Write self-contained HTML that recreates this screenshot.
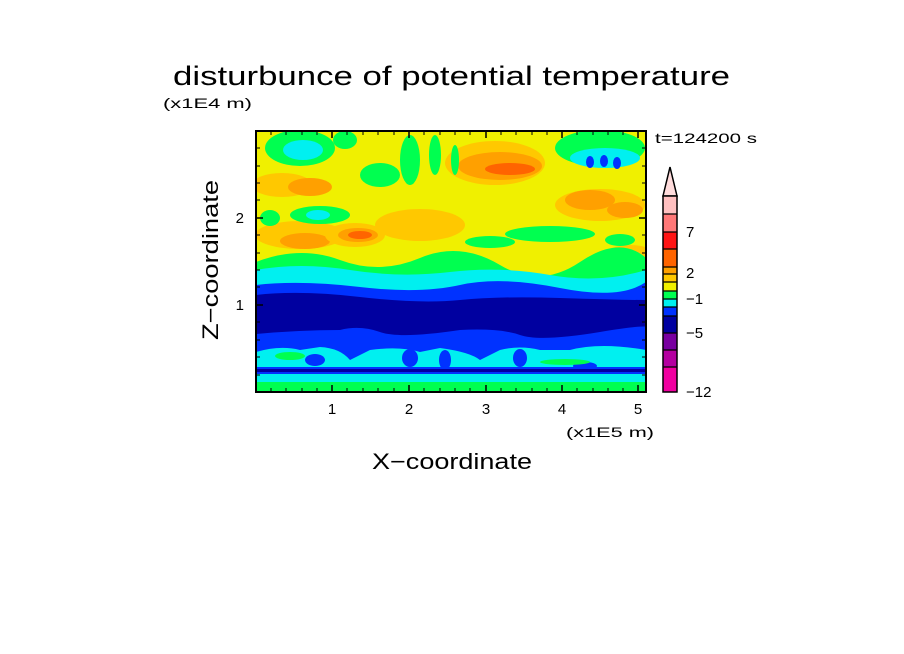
<!DOCTYPE html>
<html><head><style>body{margin:0;background:#fff}svg{display:block}</style></head><body>
<svg width="904" height="654" xmlns="http://www.w3.org/2000/svg" font-family="Liberation Sans, DejaVu Sans, sans-serif">
<text x="173" y="85" font-size="27" textLength="557" lengthAdjust="spacingAndGlyphs">disturbunce of potential temperature</text>
<text x="163" y="108" font-size="14" textLength="89" lengthAdjust="spacingAndGlyphs">(x1E4 m)</text>
<defs><clipPath id="c"><rect x="256" y="131" width="390" height="261"/></clipPath></defs>
<g clip-path="url(#c)">
<rect x="256" y="131" width="390" height="261" fill="#f0f000"/>
<ellipse cx="282" cy="185" rx="30" ry="12" fill="#ffc800"/>
<ellipse cx="310" cy="187" rx="22" ry="9" fill="#ffa000"/>
<ellipse cx="300" cy="235" rx="45" ry="14" fill="#ffc800"/>
<ellipse cx="305" cy="241" rx="25" ry="8" fill="#ffa000"/>
<ellipse cx="355" cy="235" rx="30" ry="12" fill="#ffc800"/>
<ellipse cx="358" cy="235" rx="20" ry="7" fill="#ffa000"/>
<ellipse cx="360" cy="235" rx="12" ry="4" fill="#ff6400"/>
<ellipse cx="420" cy="225" rx="45" ry="16" fill="#ffc800"/>
<ellipse cx="495" cy="163" rx="50" ry="22" fill="#ffc800"/>
<ellipse cx="500" cy="166" rx="42" ry="14" fill="#ffa000"/>
<ellipse cx="510" cy="169" rx="25" ry="6" fill="#ff6400"/>
<ellipse cx="600" cy="205" rx="45" ry="16" fill="#ffc800"/>
<ellipse cx="590" cy="200" rx="25" ry="10" fill="#ffa000"/>
<ellipse cx="625" cy="210" rx="18" ry="8" fill="#ffa000"/>
<ellipse cx="630" cy="255" rx="25" ry="10" fill="#ffc800"/>
<ellipse cx="300" cy="148" rx="35" ry="18" fill="#00ff50"/>
<ellipse cx="303" cy="150" rx="20" ry="10" fill="#00f0f0"/>
<ellipse cx="380" cy="175" rx="20" ry="12" fill="#00ff50"/>
<ellipse cx="320" cy="215" rx="30" ry="9" fill="#00ff50"/>
<ellipse cx="318" cy="215" rx="12" ry="5" fill="#00f0f0"/>
<ellipse cx="270" cy="218" rx="10" ry="8" fill="#00ff50"/>
<ellipse cx="410" cy="160" rx="10" ry="25" fill="#00ff50"/>
<ellipse cx="435" cy="155" rx="6" ry="20" fill="#00ff50"/>
<ellipse cx="455" cy="160" rx="4" ry="15" fill="#00ff50"/>
<ellipse cx="345" cy="140" rx="12" ry="9" fill="#00ff50"/>
<ellipse cx="550" cy="234" rx="45" ry="8" fill="#00ff50"/>
<ellipse cx="490" cy="242" rx="25" ry="6" fill="#00ff50"/>
<ellipse cx="600" cy="148" rx="45" ry="18" fill="#00ff50"/>
<ellipse cx="605" cy="158" rx="35" ry="10" fill="#00f0f0"/>
<ellipse cx="590" cy="162" rx="4" ry="6" fill="#0032ff"/>
<ellipse cx="604" cy="161" rx="4" ry="6" fill="#0032ff"/>
<ellipse cx="617" cy="163" rx="4" ry="6" fill="#0032ff"/>
<ellipse cx="620" cy="240" rx="15" ry="6" fill="#00ff50"/>
<path d="M256 262 Q300 245 340 260 T420 258 T500 265 T580 262 T646 258 L646 392 L256 392Z" fill="#00ff50"/>
<path d="M256 270 Q300 262 350 270 T450 272 T550 275 T646 270 L646 392 L256 392Z" fill="#00f0f0"/>
<path d="M256 285 Q300 280 360 287 T460 285 T560 288 T646 282 L646 392 L256 392Z" fill="#0032ff"/>
<path d="M256 295 Q300 290 360 297 T460 300 T560 298 T646 300 L646 392 L256 392Z" fill="#0000a0"/>
<path d="M256 334 Q300 330 340 330 Q360 325 380 332 T460 330 Q500 328 520 335 T600 332 T646 330 L646 392 L256 392Z" fill="#0032ff"/>
<path d="M256 352 Q280 345 300 350 L320 347 Q340 348 350 360 L370 350 Q400 346 420 352 L440 348 Q470 352 480 360 L500 350 Q520 345 540 350 L570 350 Q600 342 646 350 L646 392 L256 392Z" fill="#00f0f0"/>
<ellipse cx="315" cy="360" rx="10" ry="6" fill="#0032ff"/>
<ellipse cx="410" cy="358" rx="8" ry="9" fill="#0032ff"/>
<ellipse cx="445" cy="360" rx="6" ry="10" fill="#0032ff"/>
<ellipse cx="520" cy="358" rx="7" ry="9" fill="#0032ff"/>
<ellipse cx="585" cy="366" rx="12" ry="4" fill="#0032ff"/>
<ellipse cx="290" cy="356" rx="15" ry="4" fill="#00ff50"/>
<ellipse cx="565" cy="362" rx="25" ry="3" fill="#00ff50"/>
<rect x="256" y="367" width="390" height="7" fill="#0032ff"/>
<rect x="256" y="369" width="390" height="3" fill="#0000a0"/>
<rect x="256" y="374" width="390" height="8" fill="#00f0f0"/>
<rect x="256" y="382" width="390" height="10" fill="#00ff50"/>
</g>
<rect x="256" y="131" width="390" height="261" fill="none" stroke="#000" stroke-width="2"/>
<g stroke="#000" stroke-width="1.5">
<path d="M332 392v-7M409 392v-7M486 392v-7M562 392v-7M638 392v-7M332 131v7M409 131v7M486 131v7M562 131v7M638 131v7"/>
<path d="M256 305h7M256 218h7M646 305h-7M646 218h-7"/>
</g>
<g stroke="#000" stroke-width="1">
<path d="M271 392v-4M286 392v-4M302 392v-4M317 392v-4M347 392v-4M363 392v-4M378 392v-4M394 392v-4M424 392v-4M440 392v-4M455 392v-4M470 392v-4M501 392v-4M516 392v-4M532 392v-4M547 392v-4M577 392v-4M593 392v-4M608 392v-4M623 392v-4"/>
<path d="M271 131v4M286 131v4M302 131v4M317 131v4M347 131v4M363 131v4M378 131v4M394 131v4M424 131v4M440 131v4M455 131v4M470 131v4M501 131v4M516 131v4M532 131v4M547 131v4M577 131v4M593 131v4M608 131v4M623 131v4"/>
<path d="M256 375h4M256 357h4M256 340h4M256 322h4M256 287h4M256 270h4M256 253h4M256 235h4M256 200h4M256 183h4M256 166h4M256 148h4"/>
<path d="M646 375h-4M646 357h-4M646 340h-4M646 322h-4M646 287h-4M646 270h-4M646 253h-4M646 235h-4M646 200h-4M646 183h-4M646 166h-4M646 148h-4"/>
</g>
<g font-size="15" text-anchor="middle">
<text x="332" y="414">1</text><text x="409" y="414">2</text><text x="486" y="414">3</text><text x="562" y="414">4</text><text x="638" y="414">5</text>
</g>
<text x="244" y="310" font-size="15" text-anchor="end">1</text>
<text x="244" y="223" font-size="15" text-anchor="end">2</text>
<text x="566" y="437" font-size="14" textLength="88" lengthAdjust="spacingAndGlyphs">(x1E5 m)</text>
<text x="372" y="469" font-size="22" textLength="160" lengthAdjust="spacingAndGlyphs">X−coordinate</text>
<text transform="translate(218,340) rotate(-90)" font-size="22" textLength="160" lengthAdjust="spacingAndGlyphs">Z−coordinate</text>
<text x="655" y="143" font-size="14" textLength="102" lengthAdjust="spacingAndGlyphs">t=124200 s</text>
<path d="M670 167 L677 196 L663 196Z" fill="#ffdcdc" stroke="#000" stroke-width="1.5"/>
<rect x="663" y="196" width="14" height="18" fill="#ffc0c0"/>
<rect x="663" y="214" width="14" height="18" fill="#ff7878"/>
<rect x="663" y="232" width="14" height="17" fill="#ff1414"/>
<rect x="663" y="249" width="14" height="18" fill="#ff6400"/>
<rect x="663" y="267" width="14" height="7" fill="#ffa000"/>
<rect x="663" y="274" width="14" height="8" fill="#ffc800"/>
<rect x="663" y="282" width="14" height="9" fill="#f0f000"/>
<rect x="663" y="291" width="14" height="8" fill="#00ff50"/>
<rect x="663" y="299" width="14" height="8" fill="#00f0f0"/>
<rect x="663" y="307" width="14" height="9" fill="#0032ff"/>
<rect x="663" y="316" width="14" height="17" fill="#0000a0"/>
<rect x="663" y="333" width="14" height="17" fill="#7800a0"/>
<rect x="663" y="350" width="14" height="17" fill="#b400a0"/>
<rect x="663" y="367" width="14" height="25" fill="#f000a0"/>
<g stroke="#000" stroke-width="1.2">
<path d="M663 214h14M663 232h14M663 249h14M663 267h14M663 274h14M663 282h14M663 291h14M663 299h14M663 307h14M663 316h14M663 333h14M663 350h14M663 367h14"/>
<rect x="663" y="196" width="14" height="196" fill="none" stroke-width="1.5"/>
</g>
<g font-size="15">
<text x="686" y="237">7</text><text x="686" y="278">2</text><text x="686" y="304">−1</text><text x="686" y="338">−5</text><text x="686" y="397">−12</text>
</g>
</svg>
</body></html>
